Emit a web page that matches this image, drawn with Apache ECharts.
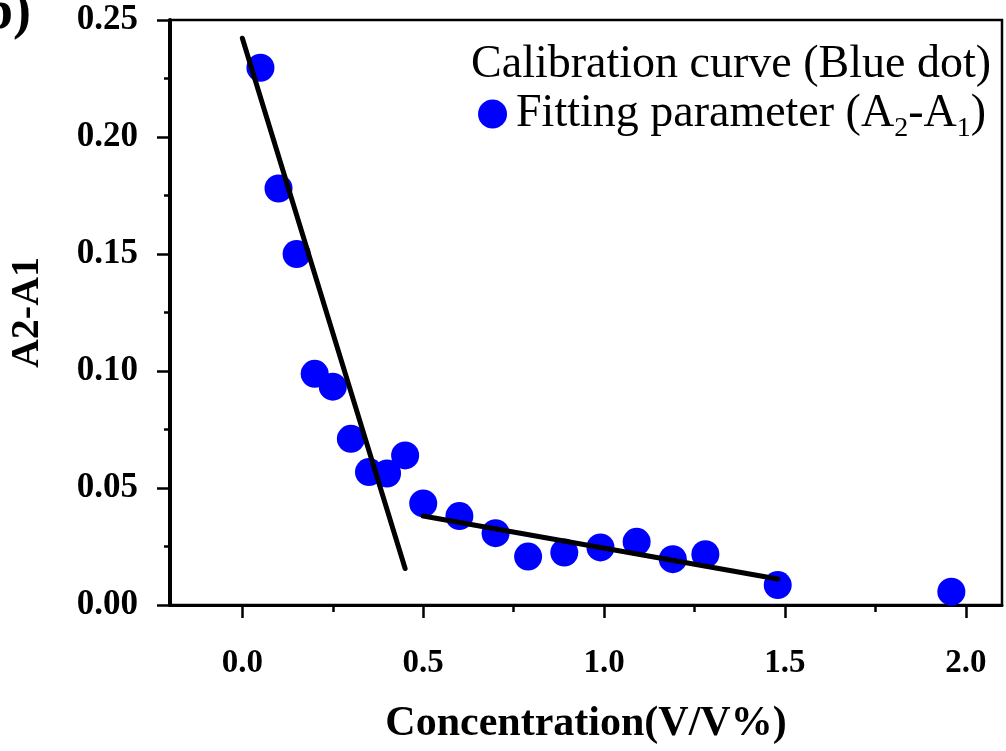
<!DOCTYPE html>
<html>
<head>
<meta charset="utf-8">
<script src="https://cdn.jsdelivr.net/npm/echarts@6/dist/echarts.min.js"></script>
<style>html,body{margin:0;padding:0;background:#fff}#chart{width:1006px;height:751px}</style>
</head>
<body>
<div id="chart"></div>
<script>
// Data
const concentration = [0.05, 0.10, 0.15, 0.20, 0.25, 0.30, 0.35, 0.40, 0.45, 0.50, 0.60, 0.70, 0.79, 0.89, 0.99, 1.09, 1.19, 1.28, 1.48, 1.96];
const a2MinusA1 = [0.2296, 0.178, 0.150, 0.0988, 0.0933, 0.0710, 0.0568, 0.0562, 0.0639, 0.0434, 0.0380, 0.0307, 0.0207, 0.0224, 0.0246, 0.0270, 0.0196, 0.0217, 0.0085, 0.0057];
const fit1X = [0.0, 0.45];
const fit1Y = [0.2422, 0.0156];
const fit2X = [0.50, 1.48];
const fit2Y = [0.0380, 0.0111];
const xTickValues = [0, 0.5, 1.0, 1.5, 2.0];
const xMinorValues = [0.25, 0.75, 1.25, 1.75];
const yTickValues = [0, 0.05, 0.10, 0.15, 0.20, 0.25];

const FONT = '"Liberation Serif", "Times New Roman", serif';
const GRID = { left: 170, top: 20, right: 4, bottom: 146 };
const chart = echarts.init(document.getElementById('chart'));
chart.setOption({
  animation: false,
  backgroundColor: '#fff',
  grid: [
    Object.assign({ show: true, borderColor: '#000', borderWidth: 2.5 }, GRID),
    Object.assign({ show: false }, GRID)
  ],
  title: {
    text: 'Calibration curve (Blue dot)', right: 10, top: 37,
    textStyle: { fontFamily: FONT, fontSize: 46, fontWeight: 'normal', color: '#000' }
  },
  legend: {
    data: ['Fitting parameter (A2-A1)'], right: 15, top: 86, icon: 'circle', itemWidth: 29, itemHeight: 29,
    formatter: () => 'Fitting parameter (A{s|2}-A{s|1})',
    textStyle: { fontFamily: FONT, fontSize: 46, color: '#000', padding: [0, 0, 0, 4],
      rich: { s: { fontFamily: FONT, fontSize: 28, color: '#000', padding: [30, 0, 0, 0] } } }
  },
  xAxis: [{
    gridIndex: 0, type: 'value', min: -0.2, max: 2.1,
    axisLine: { onZero: false, lineStyle: { color: 'black', width: 3 } },
    axisTick: { show: true, length: 12, lineStyle: { width: 2.5, color: 'black' }, customValues: xTickValues },
    axisLabel: { customValues: xTickValues, margin: 42, color: '#000', fontFamily: FONT, fontWeight: 'bold', fontSize: 33, formatter: v => v.toFixed(1) },
    splitLine: { show: false },
    name: 'Concentration(V/V%)', nameLocation: 'middle', nameGap: 98,
    nameTextStyle: { fontFamily: FONT, fontWeight: 'bold', fontSize: 42, color: '#000' }
  }, {
    gridIndex: 0, type: 'value', min: -0.2, max: 2.1, position: 'bottom',
    axisLine: { show: false, onZero: false },
    axisTick: { show: true, length: 7, lineStyle: { width: 2.5, color: 'black' }, customValues: xMinorValues },
    axisLabel: { show: false, customValues: xMinorValues }, splitLine: { show: false }
  }, {
    gridIndex: 1, type: 'value', min: -0.2, max: 2.1, position: 'bottom',
    axisLine: { show: false, onZero: false },
    axisTick: { show: true, length: 13, lineStyle: { width: 2.5, color: 'black' }, customValues: xTickValues },
    axisLabel: { show: false, customValues: xTickValues }, splitLine: { show: false }
  }],
  yAxis: [{
    gridIndex: 0, type: 'value', min: 0, max: 0.25, interval: 0.05,
    axisLine: { show: true, onZero: false, lineStyle: { color: 'black', width: 4 } },
    axisTick: { show: true, length: 12, lineStyle: { width: 2.5, color: 'black' } },
    minorTick: { show: true, splitNumber: 2, length: 6, lineStyle: { width: 2.5, color: 'black' } },
    axisLabel: { margin: 32, color: '#000', fontFamily: FONT, fontWeight: 'bold', fontSize: 35, formatter: v => v.toFixed(2) },
    splitLine: { show: false },
    name: 'A2-A1', nameLocation: 'middle', nameGap: 122,
    nameTextStyle: { fontFamily: FONT, fontWeight: 'bold', fontSize: 40, color: '#000' }
  }, {
    gridIndex: 1, type: 'value', min: 0, max: 0.25, position: 'left',
    axisLine: { show: false, onZero: false },
    axisTick: { show: true, length: 13, lineStyle: { width: 2.5, color: 'black' }, customValues: yTickValues },
    axisLabel: { show: false, customValues: yTickValues }, splitLine: { show: false }
  }],
  graphic: [{
    type: 'text', left: -35, top: -13,
    style: { text: '(b)', font: 'bold 54px ' + FONT, fill: '#000' }
  }],
  series: [
    { type: 'line', xAxisIndex: 0, yAxisIndex: 0, data: fit1X.map((x, i) => [x, fit1Y[i]]), symbol: 'none', lineStyle: { color: '#000', width: 5, cap: 'round' }, z: 3 },
    { type: 'line', xAxisIndex: 0, yAxisIndex: 0, data: fit2X.map((x, i) => [x, fit2Y[i]]), symbol: 'none', lineStyle: { color: '#000', width: 5, cap: 'round' }, z: 3 },
    { name: 'Fitting parameter (A2-A1)', type: 'scatter', xAxisIndex: 0, yAxisIndex: 0, symbol: 'circle', symbolSize: 28,
      itemStyle: { color: '#0000ff', opacity: 1 }, data: concentration.map((x, i) => [x, a2MinusA1[i]]), z: 2 }
  ]
});
</script>
</body>
</html>
